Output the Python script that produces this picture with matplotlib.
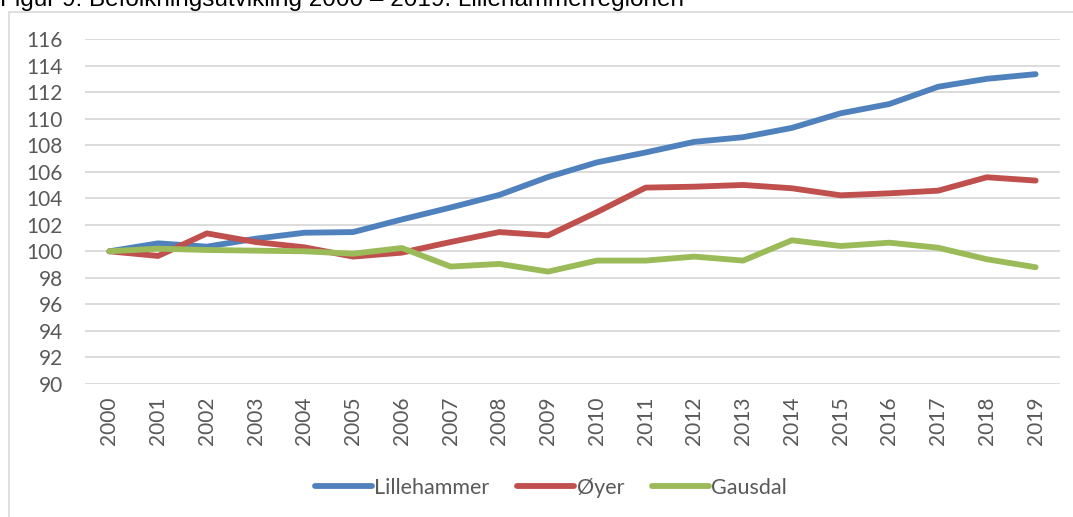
import matplotlib
matplotlib.use("Agg")
import matplotlib.pyplot as plt
from matplotlib.patches import Rectangle

years = [str(y) for y in range(2000, 2020)]
lillehammer = [100, 100.6, 100.35, 100.95, 101.4, 101.45, 102.4, 103.3, 104.25, 105.6,
               106.7, 107.45, 108.25, 108.6, 109.3, 110.4, 111.1, 112.4, 113.0, 113.35]
oyer = [100, 99.65, 101.35, 100.7, 100.3, 99.6, 99.9, 100.7, 101.45, 101.2,
        102.95, 104.8, 104.87, 105.0, 104.75, 104.22, 104.37, 104.57, 105.58, 105.33]
gausdal = [100, 100.2, 100.1, 100.05, 100.0, 99.82, 100.25, 98.85, 99.05, 98.47,
           99.3, 99.3, 99.6, 99.3, 100.83, 100.4, 100.65, 100.27, 99.4, 98.8]
yticks = list(range(90, 117, 2))

plt.rcParams['font.family'] = ['Lato', 'DejaVu Sans']

fig = plt.figure(figsize=(10.73, 5.17), dpi=100)
W, H = 1073, 517

# chart border
fig.patches.append(Rectangle((8.5 / W, -0.1), 1.2, 1 - 11.5 / H + 0.1, transform=fig.transFigure,
                             fill=False, edgecolor='#d9d9d9', linewidth=1.2))

fig.text(0 / W, 1 - 6 / H, "Figur 9: Befolkningsutvikling 2000 \u2013 2019. Lillehammerregionen",
         family='Liberation Sans', fontsize=17.5, va='baseline', ha='left', color='black')

ax = fig.add_axes([85 / W, 1 - 384 / H, (1060 - 85) / W, (384 - 39) / H])
x = range(len(years))
ax.plot(x, lillehammer, color='#4f81bd', lw=4.2, solid_capstyle='round', label='Lillehammer')
ax.plot(x, oyer, color='#c0504d', lw=4.2, solid_capstyle='round', label='Øyer')
ax.plot(x, gausdal, color='#9bbb59', lw=4.2, solid_capstyle='round', label='Gausdal')

ax.set_xlim(-0.5, len(years) - 0.5)
ax.set_ylim(90, 116)
ax.set_yticks(yticks)
ax.set_yticklabels([str(t) for t in yticks])
ax.set_xticks(list(x))
ax.set_xticklabels(years, rotation=90)
ax.grid(axis='y', color='#d9d9d9', lw=1.3)
ax.set_axisbelow(True)
for s in ax.spines.values():
    s.set_visible(False)
ax.tick_params(axis='both', length=0, labelsize=15, labelcolor='#595959')
ax.tick_params(axis='y', pad=16)
ax.tick_params(axis='x', pad=9)

fig.legend(loc='center', bbox_to_anchor=(551 / W, 1 - 488 / H), ncol=3, frameon=False,
           fontsize=15.5, handlelength=2.65, handletextpad=0.1, columnspacing=1.3,
           labelcolor='#595959')

fig.savefig('out.png', dpi=100)
